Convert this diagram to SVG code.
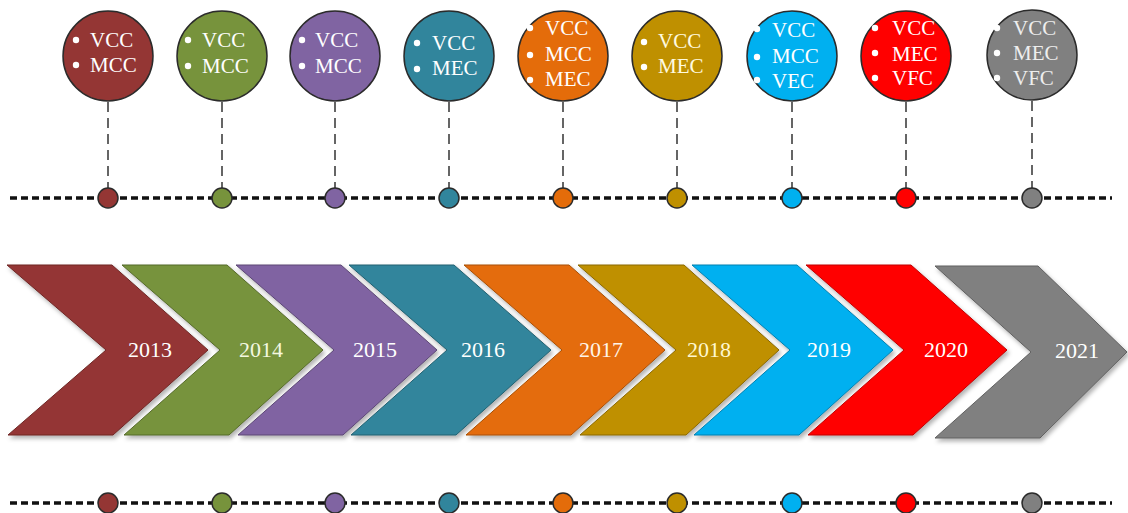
<svg xmlns="http://www.w3.org/2000/svg" width="1128" height="513" viewBox="0 0 1128 513">
<style>
.bub{stroke:#2b2b2b;stroke-width:1.5}
.dot{stroke:#2b2b2b;stroke-width:1.5}
.chev{stroke-width:1;filter:url(#sh)}
.t{font-family:"Liberation Serif","Times New Roman",serif;font-size:21px;fill:#fff}
.y{font-family:"Liberation Serif","Times New Roman",serif;font-size:22px;fill:#fff;text-anchor:middle}
.b{fill:#fff}
.vd{stroke:#333;stroke-width:1.5;stroke-dasharray:10 6;fill:none}
.hd{stroke:#111;stroke-width:3.5;stroke-dasharray:7 4;fill:none}
</style>
<defs>
<filter id="sh" x="-10%" y="-10%" width="130%" height="130%">
<feDropShadow dx="2" dy="3" stdDeviation="2" flood-color="#000" flood-opacity="0.3"/>
</filter>
</defs>
<rect width="1128" height="513" fill="#fff"/>
<g id="connectors">
<line class="hd" x1="10" y1="198" x2="1112" y2="198"/>
<line class="hd" x1="10" y1="503" x2="1112" y2="503"/>
<line class="vd" x1="108" y1="102" x2="108" y2="188"/>
<line class="vd" x1="222" y1="102" x2="222" y2="188"/>
<line class="vd" x1="335" y1="102" x2="335" y2="188"/>
<line class="vd" x1="449" y1="102" x2="449" y2="188"/>
<line class="vd" x1="563" y1="102" x2="563" y2="188"/>
<line class="vd" x1="677" y1="102" x2="677" y2="188"/>
<line class="vd" x1="792" y1="102" x2="792" y2="188"/>
<line class="vd" x1="906" y1="102" x2="906" y2="188"/>
<line class="vd" x1="1032" y1="101" x2="1032" y2="198"/>
</g>
<g id="n2013">
<circle class="bub" cx="108" cy="56" r="45" fill="#943634"/>
<circle class="b" cx="76" cy="40" r="3.2"/><circle class="b" cx="76" cy="65" r="3.2"/>
<text class="t" x="90" y="47">VCC</text><text class="t" x="90" y="72">MCC</text>
<circle class="dot" cx="108" cy="198" r="10" fill="#943634"/>
<path class="chev" d="M7,265 L112,265 L208,350 L113,435 L8,435 L106,350 Z" fill="#943634" stroke="#6e2725"/>
<text class="y" x="150" y="357">2013</text>
<circle class="dot" cx="108" cy="503" r="10" fill="#943634"/>
</g>
<g id="n2014">
<circle class="bub" cx="222" cy="56" r="45" fill="#77933c"/>
<circle class="b" cx="188" cy="40" r="3.2"/><circle class="b" cx="188" cy="66" r="3.2"/>
<text class="t" x="202" y="47">VCC</text><text class="t" x="202" y="73">MCC</text>
<circle class="dot" cx="222" cy="198" r="10" fill="#77933c"/>
<path class="chev" d="M122,265 L227,265 L323,350 L229,435 L124,435 L220,350 Z" fill="#77933c" stroke="#556a2a"/>
<text class="y" x="261" y="357" style="fill:#f4f8e0">2014</text>
<circle class="dot" cx="222" cy="503" r="10" fill="#77933c"/>
</g>
<g id="n2015">
<circle class="bub" cx="335" cy="56" r="45" fill="#8064a2"/>
<circle class="b" cx="302" cy="40" r="3.2"/><circle class="b" cx="302" cy="66" r="3.2"/>
<text class="t" x="315" y="47">VCC</text><text class="t" x="315" y="73">MCC</text>
<circle class="dot" cx="335" cy="198" r="10" fill="#8064a2"/>
<path class="chev" d="M236,265 L341,265 L437,350 L343,435 L238,435 L334,350 Z" fill="#8064a2" stroke="#5c4775"/>
<text class="y" x="375" y="357">2015</text>
<circle class="dot" cx="335" cy="503" r="10" fill="#8064a2"/>
</g>
<g id="n2016">
<circle class="bub" cx="449" cy="56" r="45" fill="#31859c"/>
<circle class="b" cx="417" cy="43" r="3.2"/><circle class="b" cx="417" cy="69" r="3.2"/>
<text class="t" x="432" y="50">VCC</text><text class="t" x="432" y="75">MEC</text>
<circle class="dot" cx="449" cy="198" r="10" fill="#31859c"/>
<path class="chev" d="M349,265 L454,265 L551,350 L456,435 L351,435 L447,350 Z" fill="#31859c" stroke="#226070"/>
<text class="y" x="483" y="357">2016</text>
<circle class="dot" cx="449" cy="503" r="10" fill="#31859c"/>
</g>
<g id="n2017">
<circle class="bub" cx="563" cy="56" r="45" fill="#e46c0a"/>
<circle class="b" cx="530" cy="28" r="3.2"/><circle class="b" cx="530" cy="55" r="3.2"/><circle class="b" cx="530" cy="80" r="3.2"/>
<text class="t" x="545" y="35">VCC</text><text class="t" x="545" y="61">MCC</text><text class="t" x="545" y="86">MEC</text>
<circle class="dot" cx="563" cy="198" r="10" fill="#e46c0a"/>
<path class="chev" d="M464,265 L569,265 L665,350 L571,435 L466,435 L562,350 Z" fill="#e46c0a" stroke="#a84f07"/>
<text class="y" x="601" y="357" style="fill:#fff4e8">2017</text>
<circle class="dot" cx="563" cy="503" r="10" fill="#e46c0a"/>
</g>
<g id="n2018">
<circle class="bub" cx="677" cy="56" r="45" fill="#bf9000"/>
<circle class="b" cx="644" cy="42" r="3.2"/><circle class="b" cx="644" cy="67" r="3.2"/>
<text class="t" x="658" y="48" style="fill:#fffbe0">VCC</text><text class="t" x="658" y="73" style="fill:#fffbe0">MEC</text>
<circle class="dot" cx="677" cy="198" r="10" fill="#bf9000"/>
<path class="chev" d="M578,265 L684,265 L779,350 L686,435 L580,435 L676,350 Z" fill="#bf9000" stroke="#8a6800"/>
<text class="y" x="709" y="357" style="fill:#fff8d0">2018</text>
<circle class="dot" cx="677" cy="503" r="10" fill="#bf9000"/>
</g>
<g id="n2019">
<circle class="bub" cx="792" cy="56" r="45" fill="#00b0f0"/>
<circle class="b" cx="757" cy="29" r="3.2"/><circle class="b" cx="757" cy="57" r="3.2"/><circle class="b" cx="757" cy="80" r="3.2"/>
<text class="t" x="772" y="37">VCC</text><text class="t" x="772" y="63">MCC</text><text class="t" x="772" y="88">VEC</text>
<circle class="dot" cx="792" cy="198" r="10" fill="#00b0f0"/>
<path class="chev" d="M692,265 L797,265 L893,350 L799,435 L694,435 L790,350 Z" fill="#00b0f0" stroke="#0080b0"/>
<text class="y" x="829" y="357">2019</text>
<circle class="dot" cx="792" cy="503" r="10" fill="#00b0f0"/>
</g>
<g id="n2020">
<circle class="bub" cx="906" cy="56" r="45" fill="#ff0000"/>
<circle class="b" cx="875" cy="28" r="3.2"/><circle class="b" cx="875" cy="53" r="3.2"/><circle class="b" cx="875" cy="78" r="3.2"/>
<text class="t" x="892" y="35">VCC</text><text class="t" x="892" y="61">MEC</text><text class="t" x="892" y="85">VFC</text>
<circle class="dot" cx="906" cy="198" r="10" fill="#ff0000"/>
<path class="chev" d="M806,265 L911,265 L1007,350 L913,435 L808,435 L904,350 Z" fill="#ff0000" stroke="#c00000"/>
<text class="y" x="946" y="357">2020</text>
<circle class="dot" cx="906" cy="503" r="10" fill="#ff0000"/>
</g>
<g id="n2021">
<circle class="bub" cx="1032" cy="55" r="45" fill="#808080"/>
<circle class="b" cx="997" cy="28" r="3.2"/><circle class="b" cx="997" cy="53" r="3.2"/><circle class="b" cx="997" cy="78" r="3.2"/>
<text class="t" x="1013" y="35" style="fill:#eee">VCC</text><text class="t" x="1013" y="60" style="fill:#eee">MEC</text><text class="t" x="1013" y="85" style="fill:#eee">VFC</text>
<circle class="dot" cx="1032" cy="198" r="10" fill="#808080"/>
<path class="chev" d="M935,266 L1038,266 L1127,352 L1040,438 L935,438 L1031,352 Z" fill="#808080" stroke="#606060"/>
<text class="y" x="1077" y="358">2021</text>
<circle class="dot" cx="1032" cy="503" r="10" fill="#808080"/>
</g>
</svg>
